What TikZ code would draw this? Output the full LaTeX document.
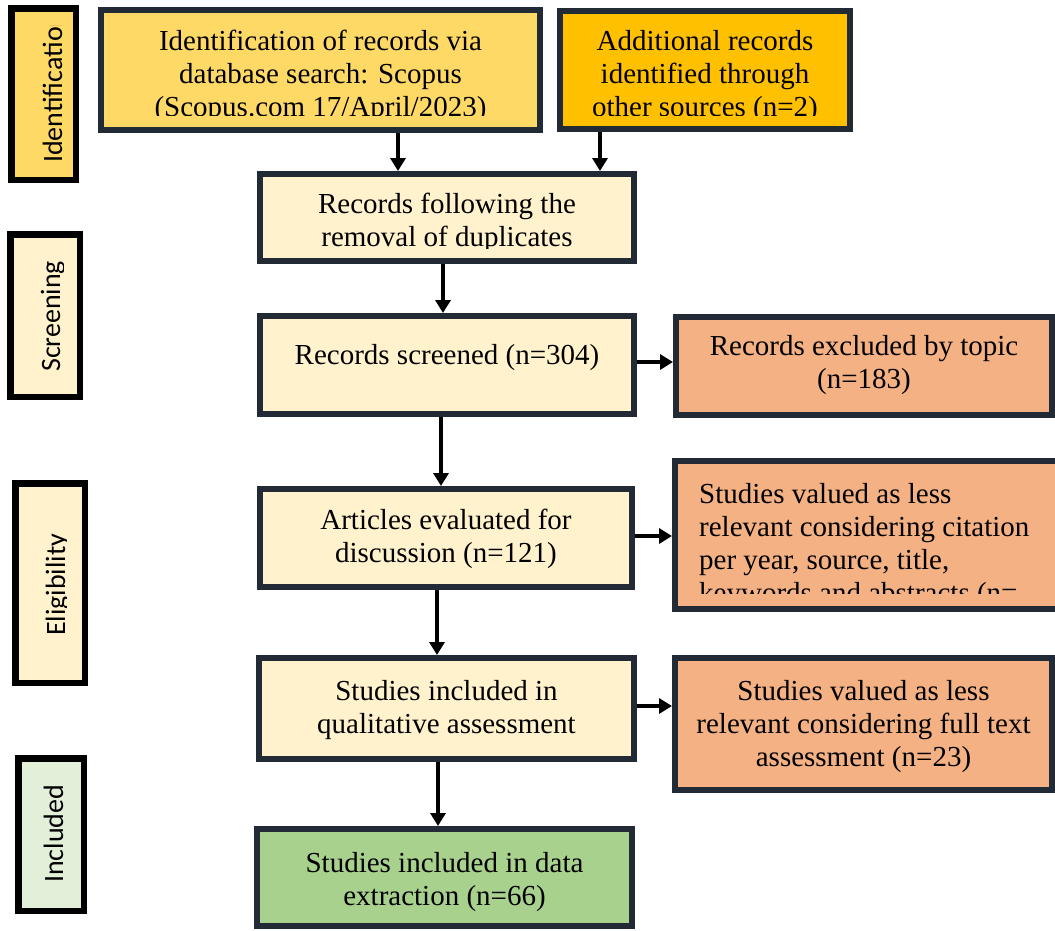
\documentclass[tikz,border=0pt]{standalone}
\usepackage{fontspec}
\setmainfont{Liberation Serif}
\newfontfamily\lblfont{Carlito}
\usetikzlibrary{arrows.meta}
\definecolor{bordc}{HTML}{222A35}
\definecolor{gold}{HTML}{FFD966}
\definecolor{amber}{HTML}{FFC000}
\definecolor{cream}{HTML}{FFF2CC}
\definecolor{salmon}{HTML}{F4B183}
\definecolor{leaf}{HTML}{A9D18E}
\definecolor{mint}{HTML}{E2F0D9}
\newcommand\fstrut{\rule{0pt}{22pt}}
\begin{document}
\begin{tikzpicture}[x=1pt,y=-1pt,
 pbox/.style={draw=bordc, line width=6pt, rectangle, inner sep=0pt},
 lbox/.style={draw=black, line width=6.5pt, rectangle, inner sep=0pt},
 txt/.style={font=\fontsize{29}{33}\selectfont, align=center, inner sep=0pt, anchor=north},
 ltxt/.style={font=\lblfont\fontsize{28}{33}\selectfont, inner sep=0pt, rotate=90, anchor=base west},
 arr/.style={draw=black, line width=3.5pt, -{Triangle[length=13pt,width=15pt]}}]
\clip (0,0) rectangle (1055,930);
\fill[white] (0,0) rectangle (1055,930);
% stage labels
\node[lbox, fill=gold, minimum width=64.5pt, minimum height=171.5pt] (l1) at (43.5,94) {};
\node[lbox, fill=cream, minimum width=69.5pt, minimum height=162.5pt] (l2) at (45,315.5) {};
\node[lbox, fill=cream, minimum width=69.5pt, minimum height=199.5pt] (l3) at (50,583) {};
\node[lbox, fill=mint, minimum width=65.5pt, minimum height=152.5pt] (l4) at (51,834.5) {};
\begin{scope}\clip (11,25) rectangle (76,180);
\node[ltxt] (lt1) at (62,163) {Identification};\end{scope}
\begin{scope}\clip (10,234) rectangle (63,397);
\node[ltxt] (lt2) at (60,372) {Screening};\end{scope}
\begin{scope}\clip (15,483) rectangle (66.5,683);
\node[ltxt] (lt3) at (65,636) {Eligibility};\end{scope}
\node[ltxt] (lt4) at (63,883) {Included};
% boxes
\node[pbox, fill=gold, minimum width=439pt, minimum height=120pt] (b1) at (320.5,70) {};
\node[pbox, fill=amber, minimum width=290pt, minimum height=118pt] (b2) at (705,70) {};
\node[pbox, fill=cream, minimum width=374pt, minimum height=87pt] (b3) at (447,217.5) {};
\node[pbox, fill=cream, minimum width=374pt, minimum height=98pt] (b4) at (447,365) {};
\node[pbox, fill=salmon, minimum width=376pt, minimum height=98pt] (b5) at (864,366) {};
\node[pbox, fill=cream, minimum width=372pt, minimum height=98pt] (b6) at (446,538) {};
\node[pbox, fill=salmon, minimum width=392pt, minimum height=148pt] (b7) at (871,535) {};
\node[pbox, fill=cream, minimum width=375pt, minimum height=101pt] (b8) at (446.5,708.5) {};
\node[pbox, fill=salmon, minimum width=377pt, minimum height=132pt] (b9) at (863.5,724) {};
\node[pbox, fill=leaf, minimum width=375pt, minimum height=97pt] (b10) at (444.5,877.5) {};
% texts
\begin{scope}\clip (101,10) rectangle (540,115);
\node[txt] (t1) at (320.5,28) {\fstrut Identification of records via\\database search: Scopus\\(Scopus.com 17/April/2023)};\end{scope}
\begin{scope}\clip (560,11) rectangle (850,115);
\node[txt] (t2) at (705,28) {\fstrut Additional records\\identified through\\other sources (n=2)};\end{scope}
\begin{scope}\clip (260,174) rectangle (634,248);
\node[txt] (t3) at (447,191) {\fstrut Records following the\\removal of duplicates};\end{scope}
\node[txt] (t4) at (447,342) {\fstrut Records screened (n=304)};
\node[txt] (t5) at (864,333) {\fstrut Records excluded by topic\\(n=183)};
\node[txt] (t6) at (446,507) {\fstrut Articles evaluated for\\discussion (n=121)};
\begin{scope}\clip (675,461) rectangle (1055,593);
\node[txt, align=left, anchor=north west] (t7) at (699,481) {\fstrut Studies valued as less\\relevant considering citation\\per year, source, title,\\keywords and abstracts (n=};\end{scope}
\node[txt] (t8) at (446.5,678) {\fstrut Studies included in\\qualitative assessment};
\node[txt] (t9) at (863.5,678) {\fstrut Studies valued as less\\relevant considering full text\\assessment (n=23)};
\node[txt] (t10) at (444.5,850) {\fstrut Studies included in data\\extraction (n=66)};
% connectors
\coordinate (c1) at ([xshift=77.5pt]b1.south);
\coordinate (c2) at ([xshift=-105pt]b2.south);
\coordinate (c3) at ([xshift=-4pt]b3.south);
\coordinate (c4) at ([xshift=-6pt]b4.south);
\coordinate (c5) at ([xshift=-9pt]b6.south);
\coordinate (c6) at ([xshift=-8.5pt]b8.south);
\draw[arr] (c1) -- (c1 |- b3.north);
\draw[arr] (c2) -- (c2 |- b3.north);
\draw[arr] (c3) -- (c3 |- b4.north);
\draw[arr] (c4) -- (c4 |- b6.north);
\draw[arr] (c5) -- (c5 |- b8.north);
\draw[arr] (c6) -- (c6 |- b10.north);
\coordinate (h1) at ([yshift=3pt]b4.east);
\coordinate (h2) at ([yshift=2pt]b6.east);
\coordinate (h3) at ([yshift=2.5pt]b8.east);
\draw[arr] (h1) -- (h1 -| b5.west);
\draw[arr] (h2) -- (h2 -| b7.west);
\draw[arr] (h3) -- (h3 -| b9.west);
\end{tikzpicture}
\end{document}
